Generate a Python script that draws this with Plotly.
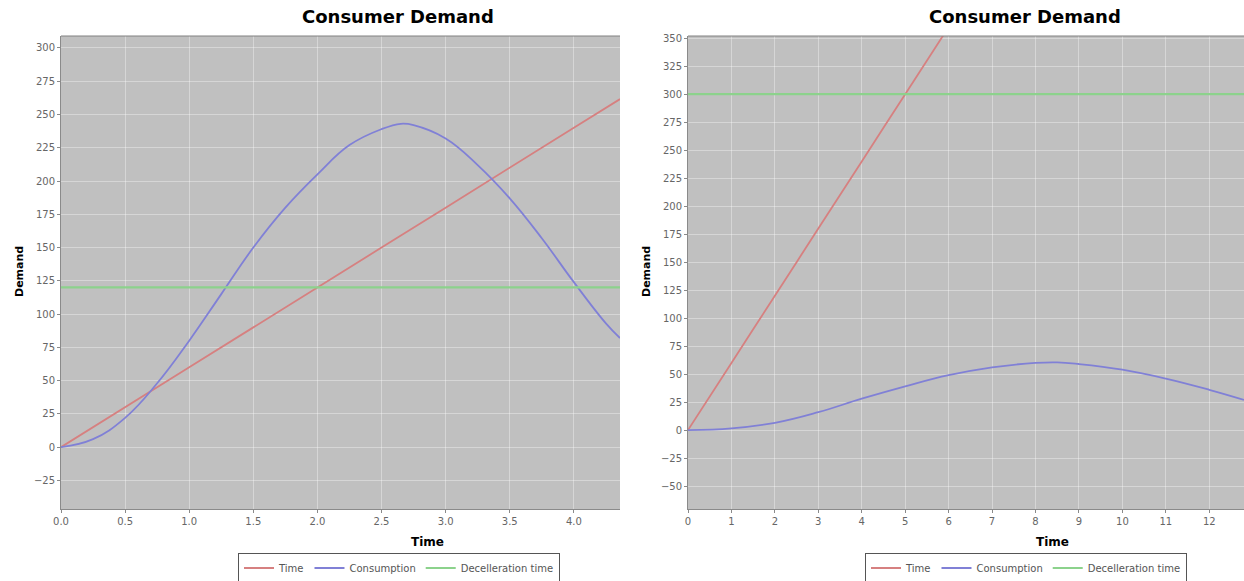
import plotly.graph_objects as go

# ---------------- data ----------------
# Left chart
left_time_t = [0.0, 1.0, 2.0, 3.0, 4.0, 4.36]
left_time_v = [0, 60, 120, 180, 240, 261.6]

left_cons_t = [0.0, 0.25, 0.5, 0.75, 1.0, 1.25, 1.5, 1.75, 2.0, 2.25, 2.5, 2.65,
               2.75, 3.0, 3.25, 3.5, 3.75, 4.0, 4.25, 4.36]
left_cons_v = [0, 6, 22, 48, 80, 115, 150, 180, 205, 227, 239, 243,
               242, 232, 212, 187, 157, 124, 93, 82]

left_decel_t = [0.0, 4.36]
left_decel_v = [120, 120]

# Right chart
right_time_t = [0, 1, 2, 3, 4, 5, 6]
right_time_v = [0, 60, 120, 180, 240, 300, 360]

right_cons_t = [0, 1, 2, 3, 4, 5, 6, 7, 8, 8.5, 9, 10, 11, 12, 12.8]
right_cons_v = [0, 1.5, 6.5, 16, 28, 39, 49, 56, 60, 60.5, 59, 54, 46, 36, 27]

right_decel_t = [0, 12.8]
right_decel_v = [300, 300]

series_names = ["Time", "Consumption", "Decelleration time"]
chart_title = "Consumer Demand"
x_title = "Time"
y_title = "Demand"

# ---------------- styling ----------------
W, H = 1244, 581
T, B = 36, 72
RED = "rgb(214,128,128)"
BLUE = "rgb(128,128,214)"
GREEN = "rgb(140,210,140)"
FONT = "DejaVu Sans"
TICKCOL = "#666666"

fig = go.Figure()

def add_series(xs, ys, name, color, xa, ya, leg, width=1.8):
    fig.add_trace(go.Scatter(x=xs, y=ys, name=name, mode="lines",
                             line=dict(color=color, width=width, shape="spline", smoothing=1.2),
                             xaxis=xa, yaxis=ya, legend=leg, hoverinfo="skip"))

add_series(left_time_t, left_time_v, series_names[0], RED, "x", "y", "legend")
add_series(left_cons_t, left_cons_v, series_names[1], BLUE, "x", "y", "legend")
add_series(left_decel_t, left_decel_v, series_names[2], GREEN, "x", "y", "legend", 2.2)
add_series(right_time_t, right_time_v, series_names[0], RED, "x2", "y2", "legend2")
add_series(right_cons_t, right_cons_v, series_names[1], BLUE, "x2", "y2", "legend2")
add_series(right_decel_t, right_decel_v, series_names[2], GREEN, "x2", "y2", "legend2", 2.2)

def px2paper_x(px):
    return px / W

def px2paper_y(py):
    return (H - B - py) / (H - T - B)

axis_common = dict(showgrid=True, gridcolor="rgba(255,255,255,0.35)", gridwidth=1,
                   zeroline=False, showline=True, linecolor="#8a8a8a", linewidth=1,
                   ticks="outside", ticklen=3, tickcolor="#8a8a8a", automargin=False,
                   tickfont=dict(family=FONT, size=10, color=TICKCOL))

legend_common = dict(orientation="h", yanchor="middle", y=px2paper_y(568), xanchor="center",
                     bordercolor="#555555", borderwidth=1, bgcolor="white",
                     font=dict(family=FONT, size=10, color="#555555"),
                     tracegroupgap=0, itemwidth=30)

fig.update_layout(
    width=W, height=H,
    margin=dict(l=0, r=0, t=T, b=B, autoexpand=False),
    paper_bgcolor="white",
    plot_bgcolor="#c0c0c0",
    hovermode=False,
    xaxis=dict(domain=[px2paper_x(61), px2paper_x(620)], range=[0, 4.36],
               dtick=0.5, tickformat=".1f", anchor="y", **axis_common),
    yaxis=dict(domain=[0, 1], range=[-46.5, 309], dtick=25, anchor="x", **axis_common),
    xaxis2=dict(domain=[px2paper_x(688), 1.0], range=[0, 12.8],
                dtick=1, anchor="y2", **axis_common),
    yaxis2=dict(domain=[0, 1], range=[-70.5, 352], dtick=25, anchor="x2", **axis_common),
    legend=dict(x=px2paper_x(399), **legend_common),
    legend2=dict(x=px2paper_x(1026), **legend_common),
    showlegend=True,
)

# plot top outline
for x0, x1 in [(61, 620), (688, 1244)]:
    fig.add_shape(type="line", xref="paper", yref="paper",
                  x0=px2paper_x(x0), x1=px2paper_x(x1), y0=1, y1=1,
                  line=dict(color="#808080", width=1))

annotations = []
for cx in (398, 1025):
    annotations.append(dict(text=f"<b>{chart_title}</b>", x=px2paper_x(cx), y=px2paper_y(17),
                            xref="paper", yref="paper", showarrow=False,
                            xanchor="center", yanchor="middle",
                            font=dict(family=FONT, size=18, color="black")))
for cx in (427, 1052):
    annotations.append(dict(text=f"<b>{x_title}</b>", x=px2paper_x(cx), y=px2paper_y(542),
                            xref="paper", yref="paper", showarrow=False,
                            xanchor="center", yanchor="middle",
                            font=dict(family=FONT, size=12, color="black")))
for cx in (19, 646):
    annotations.append(dict(text=f"<b>{y_title}</b>", x=px2paper_x(cx), y=px2paper_y(272),
                            xref="paper", yref="paper", showarrow=False, textangle=-90,
                            xanchor="center", yanchor="middle",
                            font=dict(family=FONT, size=11, color="black")))
fig.update_layout(annotations=annotations)

fig.write_html("out.html", config={"displayModeBar": False, "staticPlot": True},
               post_script="document.body.style.margin='0';document.body.style.overflow='hidden';")
